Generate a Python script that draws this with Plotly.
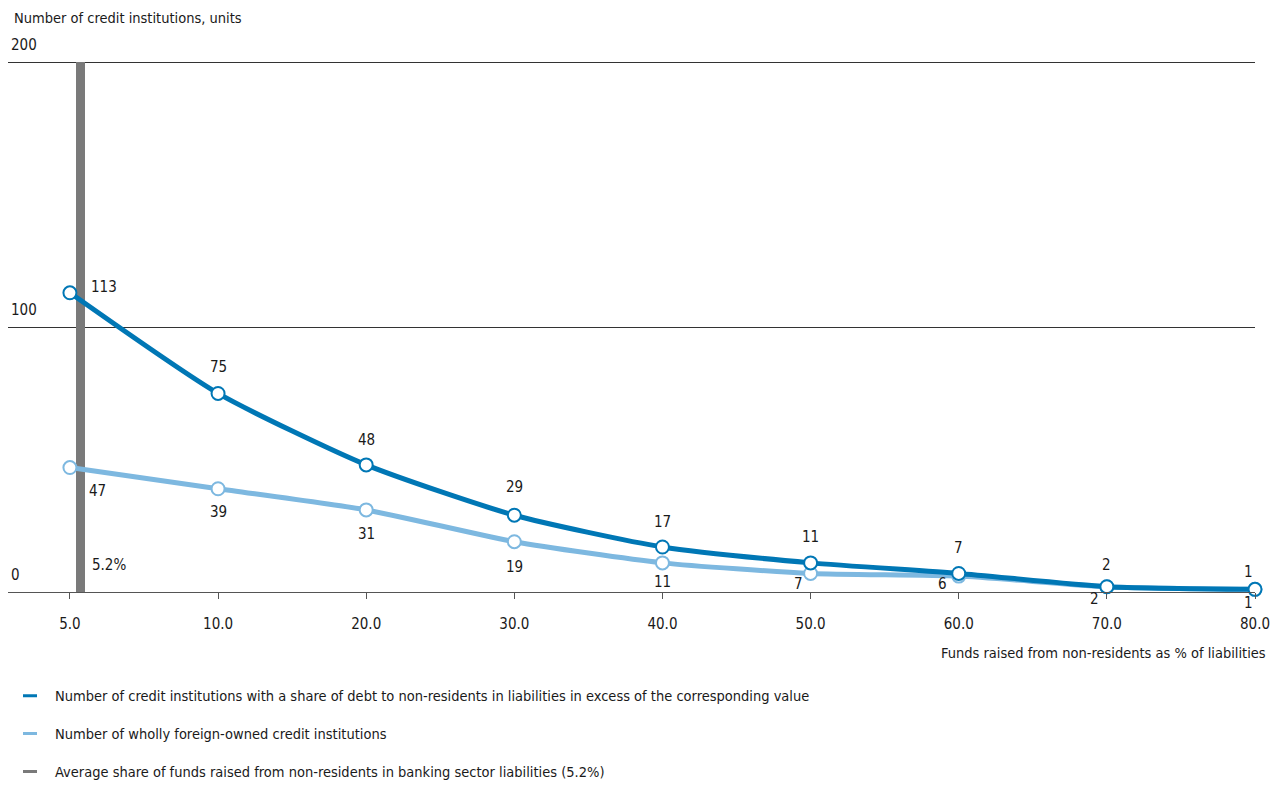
import plotly.graph_objects as go

# Threshold values of the non-resident funding share, % of liabilities
thresholds = ["5.0", "10.0", "20.0", "30.0", "40.0", "50.0", "60.0", "70.0", "80.0"]
# Credit institutions whose debt to non-residents exceeds each threshold
above_threshold = [113, 75, 48, 29, 17, 11, 7, 2, 1]
# Wholly foreign-owned credit institutions
foreign_owned = [47, 39, 31, 19, 11, 7, 6, 2, 1]
# Sector-wide average share of non-resident funds, %
average_share = 5.2
y_max = 200
y_ticks = [0, 100, 200]

DARK = "#0077b5"
LIGHT = "#7db8e0"
GREY = "#7a7a7a"
TEXT = "#1a1a1a"
FONT = "DejaVu Sans Condensed, Liberation Sans Narrow, Arial Narrow, sans-serif"

idx = list(range(len(thresholds)))
# place the average on the index scale between the first two thresholds
lo, hi = float(thresholds[0]), float(thresholds[1])
avg_pos = (average_share - lo) / (hi - lo)

fig = go.Figure()

marker_common = dict(symbol="circle", size=13, color="white")

fig.add_trace(go.Scatter(
    x=idx, y=foreign_owned, mode="lines+markers",
    line=dict(color=LIGHT, width=5, shape="spline", smoothing=0.6),
    marker=dict(**marker_common, line=dict(color=LIGHT, width=2)),
    cliponaxis=False, showlegend=False, hoverinfo="y",
))
fig.add_trace(go.Scatter(
    x=idx, y=above_threshold, mode="lines+markers",
    line=dict(color=DARK, width=5, shape="spline", smoothing=0.6),
    marker=dict(**marker_common, line=dict(color=DARK, width=2)),
    cliponaxis=False, showlegend=False, hoverinfo="y",
))
# vertical band starting at the average share
fig.add_trace(go.Bar(
    x=[avg_pos], y=[y_max], width=0.062, offset=0,
    marker=dict(color=GREY, line=dict(width=0)),
    showlegend=False, hoverinfo="skip",
))

# legend entries (short dashes)
legend_items = [
    ("Number of credit institutions with a share of debt to non-residents in liabilities in excess of the corresponding value", DARK),
    ("Number of wholly foreign-owned credit institutions", LIGHT),
    (f"Average share of funds raised from non-residents in banking sector liabilities ({average_share}%)", GREY),
]
for i, (name, col) in enumerate(legend_items):
    fig.add_trace(go.Scatter(
        x=[None], y=[None], mode="markers", name=name,
        marker=dict(symbol="line-ew", size=10, line=dict(color=col, width=3)),
        legendgroup=f"g{i}",
    ))

annotations = []
# labels for the upper series (above the points, first one to the right)
dark_shift = [(34, 6), (0, 26), (0, 25), (0, 28), (0, 25), (0, 26), (0, 25), (0, 22), (-7, 17)]
for i, v in enumerate(above_threshold):
    dx, dy = dark_shift[i]
    annotations.append(dict(x=i, y=v, text=str(v), showarrow=False, xshift=dx, yshift=dy,
                            font=dict(size=15, color=TEXT, family=FONT)))
# labels for the lower series (below the points)
light_shift = [(28, -23), (0, -23), (0, -24), (0, -25), (0, -19), (-12, -11), (-16, -8), (-12, -12), (-7, -14)]
for i, v in enumerate(foreign_owned):
    dx, dy = light_shift[i]
    annotations.append(dict(x=i, y=v, text=str(v), showarrow=False, xshift=dx, yshift=dy,
                            font=dict(size=15, color=TEXT, family=FONT)))
# label of the average band
annotations.append(dict(x=avg_pos, y=0, text=f"{average_share}%", showarrow=False,
                        xanchor="left", yanchor="bottom", xshift=14, yshift=16,
                        font=dict(size=15, color=TEXT, family=FONT)))
# axis titles
annotations.append(dict(xref="paper", yref="paper", x=0, y=1, xanchor="left", yanchor="middle",
                        xshift=4, yshift=18, text="Number of credit institutions, units",
                        showarrow=False, font=dict(size=14.5, color=TEXT, family=FONT)))
annotations.append(dict(xref="paper", yref="paper", x=1, y=0, xanchor="right", yanchor="middle",
                        xshift=13, yshift=-61, text="Funds raised from non-residents as % of liabilities",
                        showarrow=False, font=dict(size=14.5, color=TEXT, family=FONT)))

fig.update_layout(
    width=1276, height=785,
    margin=dict(l=8, r=21, t=36, b=193, autoexpand=False),
    paper_bgcolor="white", plot_bgcolor="white",
    font=dict(family=FONT, size=15, color=TEXT),
    annotations=annotations,
    bargap=0,
    legend=dict(
        x=-0.0024, y=-0.158, xref="paper", yref="paper", xanchor="left", yanchor="top",
        orientation="v", tracegroupgap=16, font=dict(size=14.5, color=TEXT, family=FONT),
        bgcolor="rgba(0,0,0,0)", itemwidth=40,
    ),
    xaxis=dict(
        range=[-0.418, 8.0], tickmode="array", tickvals=idx, ticktext=thresholds,
        showgrid=False, zeroline=False, showline=True, linecolor="#555555", linewidth=1,
        ticks="outside", ticklen=6, tickcolor="#555555", ticklabelstandoff=12,
        tickfont=dict(size=15, color=TEXT),
    ),
    yaxis=dict(
        range=[0, 210], tickmode="array", tickvals=y_ticks,
        showgrid=True, gridcolor="#333333", gridwidth=1, zeroline=False, showline=False,
        ticklabelposition="inside top", ticks="", ticklabelshift=-7,
        tickfont=dict(size=15, color=TEXT),
    ),
)

fig.write_html("out.html")
